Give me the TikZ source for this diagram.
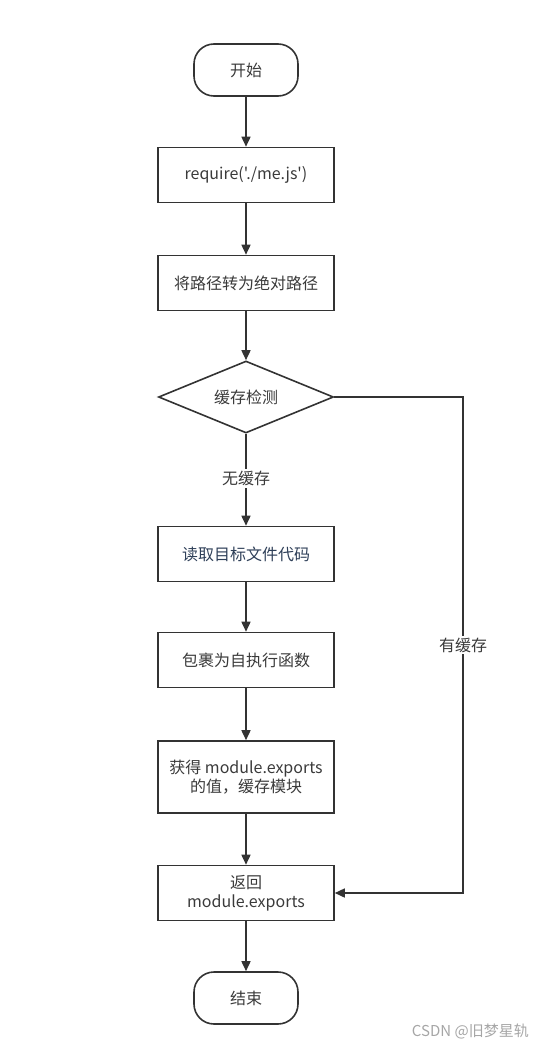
\documentclass[tikz,border=0pt]{standalone}
\usepackage{fontspec}
\setmainfont{Noto Sans CJK SC}[Ligatures=TeXOff]
\usetikzlibrary{shapes.geometric,arrows.meta}
\definecolor{ln}{HTML}{333333}
\definecolor{tx}{HTML}{3A3A3A}
\definecolor{bl}{HTML}{2E3F58}
\tikzset{
  base/.style={draw=ln, line width=1.6pt, text=tx, font=\fontsize{16}{19}\selectfont, align=center, inner sep=0pt},
  procbox/.style={base, rectangle, minimum width=176pt, minimum height=55pt},
  termbox/.style={base, rectangle, rounded corners=20pt, minimum width=104pt, minimum height=52pt},
  decbox/.style={base, diamond, shape aspect=2.43, minimum width=175pt, minimum height=72pt},
  conn/.style={draw=ln, line width=1.6pt, -{Triangle[length=10pt,width=9pt]}},
  lbl/.style={fill=white, text=tx, font=\fontsize{16}{19}\selectfont, inner sep=2pt}
}
\begin{document}
\begin{tikzpicture}[x=1pt,y=-1pt]
\useasboundingbox (0,0) rectangle (543,1049);
\node[termbox] (start) at (246,70) {开始};
\node[procbox] (req) at (246,175) {require('./me.js')};
\node[procbox] (abs) at (246,283) {将路径转为绝对路径};
\node[decbox] (chk) at (246,397) {缓存检测};
\node[procbox, text=bl] (read) at (246,554) {读取目标文件代码};
\node[procbox] (wrap) at (246,660) {包裹为自执行函数};
\node[procbox, minimum height=72pt] (get) at (246,777) {获得 module.exports\\的值，缓存模块};
\node[procbox] (ret) at (246,893) {返回\\module.exports};
\node[termbox] (end) at (246,998) {结束};
\coordinate (c1) at (463,397);
\coordinate (c2) at (463,893);
\draw[conn] (start) -- (req);
\draw[conn] (req) -- (abs);
\draw[conn] (abs) -- (chk);
\draw[conn] (chk) -- node[lbl, pos=0.49] (lno) {无缓存} (read);
\draw[conn] (read) -- (wrap);
\draw[conn] (wrap) -- (get);
\draw[conn] (get) -- (ret);
\draw[conn] (ret) -- (end);
\draw[conn] (chk.east) -- (c1) -- node[lbl, pos=0.5] (lyes) {有缓存} (c2) -- (ret.east);
\node[text=gray!70, font=\fontsize{15}{17}\selectfont, anchor=east, inner sep=0pt] (wm) at (529,1031) {CSDN @旧梦星轨};
\end{tikzpicture}
\end{document}
